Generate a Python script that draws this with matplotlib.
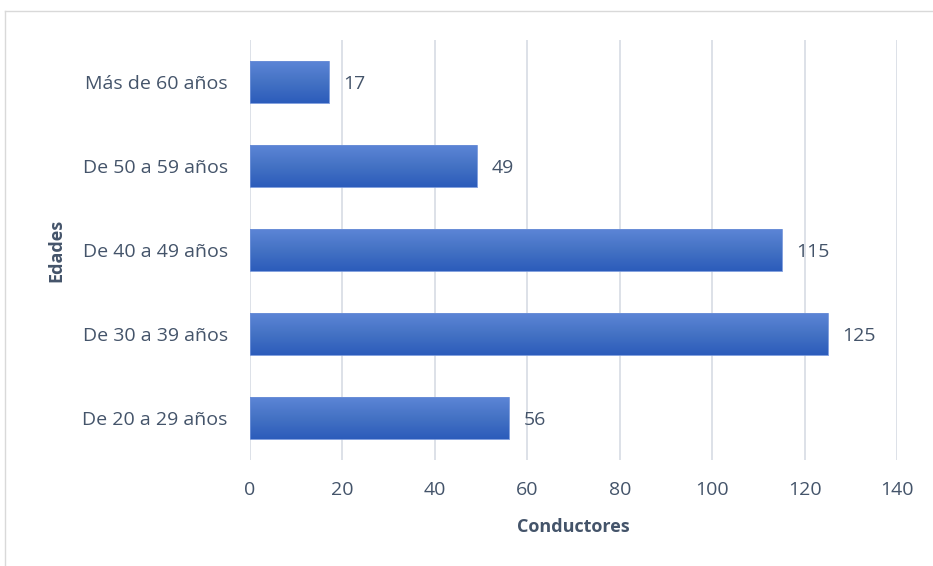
import numpy as np
import matplotlib.pyplot as plt
from matplotlib.colors import LinearSegmentedColormap

edades = ["De 20 a 29 años", "De 30 a 39 años", "De 40 a 49 años",
          "De 50 a 59 años", "Más de 60 años"]
conductores = [56, 125, 115, 49, 17]
ticks_x = [0, 20, 40, 60, 80, 100, 120, 140]

plt.rcParams['font.family'] = ['Open Sans', 'DejaVu Sans']
COLOR_TEXTO = '#44546A'

fig = plt.figure(figsize=(9.33, 5.66), dpi=100)
ax = fig.add_axes([0.268, 0.187, 0.6935, 0.742])

# degradado de las barras (claro arriba, oscuro abajo)
cmap = LinearSegmentedColormap.from_list('azul', ['#2C5CBB', '#4472C4', '#5C85D6'])
grad = np.linspace(0, 1, 100).reshape(-1, 1)

y = np.arange(len(edades))
barras = ax.barh(y, conductores, height=0.5, color='none', edgecolor='#6E91D8',
                 linewidth=0.6, zorder=3)
for b in barras:
    x0, y0 = b.get_x(), b.get_y()
    w, h = b.get_width(), b.get_height()
    ax.imshow(grad, extent=(x0, x0 + w, y0, y0 + h), origin='lower',
              cmap=cmap, aspect='auto', zorder=2)

for yi, v in zip(y, conductores):
    ax.text(v + 3.2, yi, str(v), va='center_baseline', ha='left', fontsize=14,
            color=COLOR_TEXTO)

ax.set_xlim(0, 140)
ax.set_ylim(-0.5, 4.5)
ax.set_xticks(ticks_x)
ax.set_yticks(y)
ax.set_yticklabels(edades)
ax.tick_params(length=0, labelsize=14, colors=COLOR_TEXTO)
ax.tick_params(axis='x', pad=15)
ax.tick_params(axis='y', pad=16)
ax.grid(axis='x', color='#DDE1E8', linewidth=1.4, zorder=0)
ax.set_axisbelow(True)
for s in ax.spines.values():
    s.set_visible(False)

ax.set_xlabel("Conductores", fontsize=13, fontweight='bold', color=COLOR_TEXTO, labelpad=14)
ax.set_ylabel("Edades", fontsize=13, fontweight='bold', color=COLOR_TEXTO, labelpad=12)

# marco exterior del grafico
fig.add_artist(plt.Line2D([5/933, 5/933], [0, 1 - 11/566], color='#D9D9D9', lw=1))
fig.add_artist(plt.Line2D([5/933, 1], [1 - 11/566, 1 - 11/566], color='#D9D9D9', lw=1))

fig.savefig("out.png", dpi=100)
